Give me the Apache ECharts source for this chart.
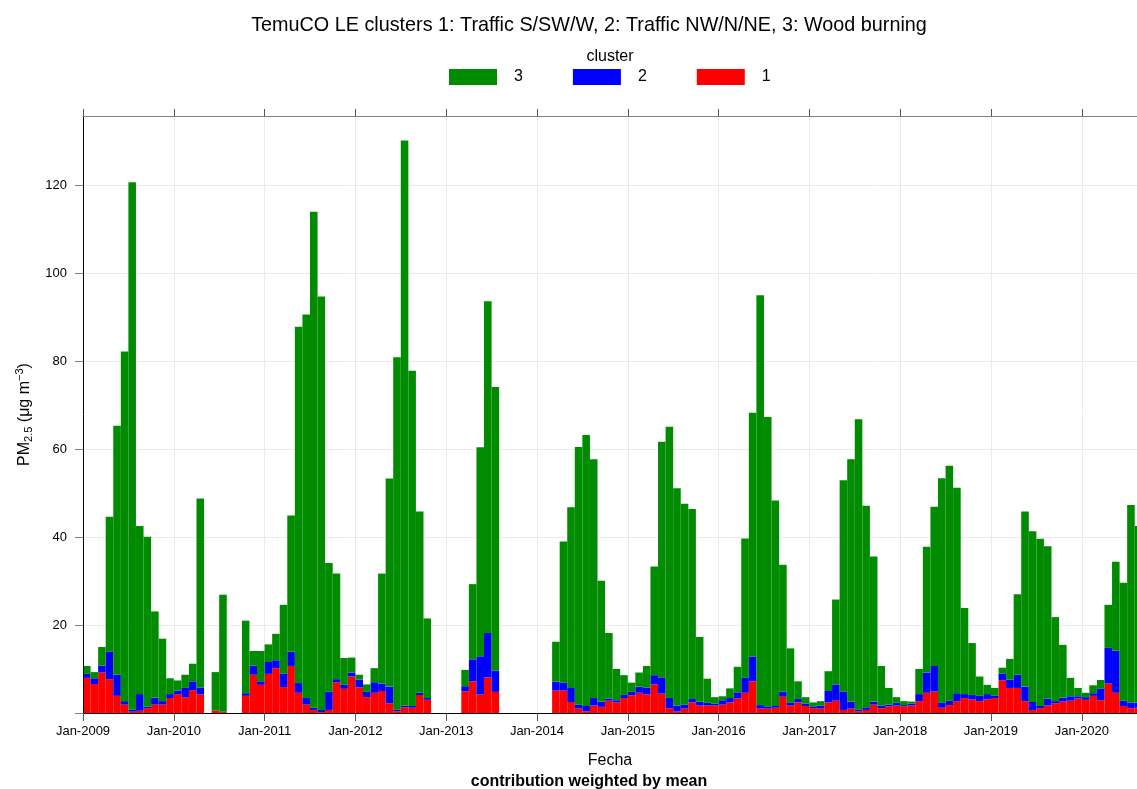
<!DOCTYPE html>
<html>
<head>
<meta charset="utf-8">
<script src="https://cdn.jsdelivr.net/npm/echarts@6/dist/echarts.min.js"></script>
<style>
  html, body { margin: 0; padding: 0; background: #ffffff; }
  #chart { width: 1137px; height: 789px; }
</style>
</head>
<body>
<div id="chart"></div>
<script>
const FONT = "'Liberation Sans', Arial, Helvetica, sans-serif";

// Monthly PM2.5 contribution per cluster (ug m-3), one value per month from Jan-2009; null = no data
const cluster1 = [
  8.0, 6.6, 9.2, 7.7, 3.9, 1.9, 0.3, 0.5, 1.1, 1.9, 1.9, 3.4,
  4.3, 3.6, 5.2, 4.2, null, 0.6, 0.2, null, null, 3.9, 8.7, 6.4,
  8.9, 10.2, 5.9, 10.7, 4.6, 1.9, 0.7, 0.2, 0.7, 7.0, 5.5, 8.3,
  5.8, 3.6, 4.6, 5.0, 2.2, 0.4, 1.3, 1.2, 4.1, 3.0, null, null,
  null, null, 4.9, 7.2, 4.2, 8.1, 4.8, null, null, null, null, null,
  null, null, 5.1, 5.1, 2.5, 1.0, 0.4, 1.7, 1.4, 2.8, 2.4, 3.4,
  4.0, 4.6, 4.2, 6.5, 4.4, 1.1, 0.4, 1.0, 2.4, 1.7, 1.7, 1.7,
  1.9, 2.4, 3.3, 4.6, 7.2, 1.0, 1.0, 1.2, 3.7, 1.7, 2.4, 1.6,
  1.1, 1.0, 2.4, 2.8, 0.7, 1.0, 0.4, 0.7, 1.9, 1.1, 1.5, 1.7,
  1.5, 1.7, 2.7, 4.6, 4.9, 1.2, 1.8, 2.7, 3.4, 3.1, 2.7, 3.1,
  3.4, 7.4, 5.7, 5.7, 2.7, 0.7, 1.1, 1.7, 2.2, 2.6, 2.8, 3.3,
  3.0, 3.9, 2.9, 6.7, 4.6, 1.6, 1.1, 1.2
];
const cluster2 = [
  0.9, 1.3, 1.6, 6.3, 4.8, 0.8, 0.5, 3.8, 0.3, 1.6, 0.8, 0.9,
  0.8, 2.1, 2.0, 1.6, null, 0.0, 0.1, null, null, 0.6, 2.1, 0.8,
  2.7, 1.8, 3.1, 3.2, 2.2, 1.5, 0.5, 0.5, 4.2, 0.7, 0.9, 0.9,
  1.8, 1.2, 2.4, 1.7, 3.8, 0.4, 0.4, 0.4, 0.5, 0.4, null, null,
  null, null, 1.2, 5.0, 8.7, 10.1, 4.8, null, null, null, null, null,
  null, null, 2.0, 1.8, 3.2, 0.9, 1.2, 1.7, 1.2, 0.5, 0.5, 0.7,
  0.8, 1.4, 1.6, 2.1, 3.7, 2.3, 1.3, 0.9, 0.8, 0.9, 0.6, 0.4,
  1.0, 1.0, 1.4, 3.5, 5.6, 0.8, 0.5, 0.4, 1.2, 0.6, 0.8, 0.5,
  0.4, 0.7, 2.6, 3.7, 4.2, 1.6, 0.4, 0.6, 0.7, 0.6, 0.4, 0.6,
  0.3, 0.4, 1.6, 4.6, 5.8, 1.2, 1.0, 1.8, 0.9, 1.0, 1.2, 1.2,
  0.5, 1.6, 1.9, 3.0, 3.3, 1.8, 0.5, 1.6, 0.5, 0.9, 1.0, 0.5,
  0.6, 0.6, 2.7, 8.1, 9.6, 1.2, 1.3, 1.2
];
const cluster3 = [
  1.8, 1.4, 4.2, 30.6, 56.6, 79.5, 119.9, 38.2, 38.7, 19.6, 14.2, 3.6,
  2.3, 3.0, 4.0, 43.0, null, 8.7, 26.6, null, null, 16.5, 3.3, 6.9,
  4.0, 6.0, 15.6, 31.0, 81.0, 87.2, 112.8, 94.0, 29.2, 24.0, 6.1, 3.4,
  1.1, 1.7, 3.2, 25.0, 47.3, 80.1, 128.5, 76.2, 41.2, 18.1, null, null,
  null, null, 3.7, 17.1, 47.5, 75.4, 64.5, null, null, null, null, null,
  null, null, 9.1, 32.1, 41.1, 58.6, 61.6, 54.3, 27.5, 14.9, 7.1, 4.5,
  2.1, 3.2, 4.9, 24.7, 53.6, 61.7, 49.4, 45.7, 43.2, 14.7, 5.5, 1.5,
  0.9, 2.2, 5.8, 31.6, 55.5, 93.2, 65.8, 46.7, 28.8, 12.4, 4.0, 1.5,
  0.9, 1.0, 4.5, 19.3, 48.0, 55.1, 66.0, 45.8, 33.0, 9.0, 3.8, 1.3,
  0.9, 0.5, 5.7, 28.6, 36.2, 51.0, 53.4, 46.7, 19.6, 11.8, 4.4, 2.1,
  1.8, 1.3, 4.7, 18.3, 39.8, 38.8, 38.0, 34.6, 19.1, 12.0, 4.2, 1.9,
  1.0, 1.8, 1.9, 9.8, 20.2, 26.8, 44.9, 40.1
];

// Axis tick labels (one per January) and y tick values
const yearTicks = ['Jan-2009', 'Jan-2010', 'Jan-2011', 'Jan-2012', 'Jan-2013', 'Jan-2014',
                   'Jan-2015', 'Jan-2016', 'Jan-2017', 'Jan-2018', 'Jan-2019', 'Jan-2020'];
const yTickValues = [0, 20, 40, 60, 80, 100, 120];
const yLabelValues = [20, 40, 60, 80, 100, 120];

// Month categories (Jan-2009 onwards) used as the x position index
const months = cluster1.map((_, i) => {
  const y = 2009 + Math.floor(i / 12);
  const m = (i % 12) + 1;
  return y + '-' + String(m).padStart(2, '0');
});
const xTickValues = yearTicks.map((_, k) => k * 12);

const X_MAX = 139.3;
const Y_MAX = 135.75;

const COLORS = { '1': '#FF0000', '2': '#0000FF', '3': '#008B00' };

// One stacked layer: each month is a rectangle spanning [month, month + 1]
function layer(name, values, lower) {
  const color = COLORS[name];
  const data = [];
  values.forEach((v, i) => {
    if (v == null) return;
    let base = 0;
    lower.forEach(arr => { base += arr[i] || 0; });
    data.push({ name: months[i], value: [i, base, base + v] });
  });
  return {
    type: 'custom',
    name: name,
    xAxisIndex: 0,
    yAxisIndex: 0,
    clip: true,
    z: 2,
    itemStyle: { color: color },
    encode: { x: 0, y: [1, 2] },
    renderItem: function (params, api) {
      const i = api.value(0);
      const p0 = api.coord([i, api.value(1)]);
      const p1 = api.coord([i + 1, api.value(2)]);
      return {
        type: 'rect',
        shape: { x: p0[0], y: p1[1], width: p1[0] - p0[0], height: p0[1] - p1[1] },
        style: { fill: color }
      };
    },
    data: data
  };
}

const chart = echarts.init(document.getElementById('chart'), null, { renderer: 'canvas' });

const option = {
  animation: false,
  backgroundColor: '#ffffff',
  textStyle: { fontFamily: FONT },
  grid: { left: 83, right: 0, top: 116, bottom: 76, containLabel: false },
  legend: {
    data: ['3', '2', '1'],
    left: 444,
    top: 64,
    orient: 'horizontal',
    icon: 'rect',
    itemWidth: 48,
    itemHeight: 16,
    itemGap: 50,
    selectedMode: false,
    textStyle: { fontSize: 16, color: '#000', fontFamily: FONT, padding: [0, 0, 0, 12] }
  },
  xAxis: [
    {
      type: 'value', min: 0, max: X_MAX, interval: 12, position: 'bottom', z: 0,
      axisLine: { show: false }, axisTick: { show: false }, axisLabel: { show: false },
      splitLine: { show: true, lineStyle: { color: '#EBEBEB', width: 1 } }
    },
    {
      type: 'value', min: 0, max: X_MAX, interval: 12, position: 'bottom', z: 5,
      axisLine: { show: true, onZero: false, lineStyle: { color: '#000', width: 1 } },
      axisTick: { show: true, customValues: xTickValues, length: 8, lineStyle: { color: '#555' } },
      axisLabel: {
        show: true, customValues: xTickValues, margin: 12, fontSize: 13, color: '#000', fontFamily: FONT,
        formatter: v => yearTicks[Math.round(v / 12)] || ''
      },
      splitLine: { show: false }
    },
    {
      type: 'value', min: 0, max: X_MAX, interval: 12, position: 'top', z: 5,
      axisLine: { show: true, onZero: false, lineStyle: { color: '#808080', width: 1 } },
      axisTick: { show: true, customValues: xTickValues, length: 7, lineStyle: { color: '#555' } },
      axisLabel: { show: false },
      splitLine: { show: false }
    }
  ],
  yAxis: [
    {
      type: 'value', min: 0, max: Y_MAX, interval: 20, position: 'left', z: 0,
      axisLine: { show: false }, axisTick: { show: false }, axisLabel: { show: false },
      splitLine: { show: true, lineStyle: { color: '#EBEBEB', width: 1 } }
    },
    {
      type: 'value', min: 0, max: Y_MAX, interval: 20, position: 'left', z: 5,
      axisLine: { show: true, onZero: false, lineStyle: { color: '#000', width: 1 } },
      axisTick: { show: true, customValues: yTickValues, length: 8, lineStyle: { color: '#808080' } },
      axisLabel: { show: true, customValues: yLabelValues, margin: 16, fontSize: 13, color: '#000', fontFamily: FONT },
      splitLine: { show: false },
      name: '{n|PM}{s|2.5}{n| (\u03bcg m}{p|\u22123}{n|)}',
      nameLocation: 'middle',
      nameGap: 46,
      nameTextStyle: {
        fontFamily: FONT,
        rich: {
          n: { fontSize: 16, color: '#000', fontFamily: FONT, lineHeight: 20 },
          s: { fontSize: 11, color: '#000', fontFamily: FONT, lineHeight: 12, verticalAlign: 'bottom' },
          p: { fontSize: 11, color: '#000', fontFamily: FONT, lineHeight: 10, verticalAlign: 'top' }
        }
      }
    }
  ],
  graphic: [
    {
      type: 'text', x: 589, y: 26, silent: true,
      style: {
        text: 'TemuCO LE clusters 1: Traffic S/SW/W, 2: Traffic NW/N/NE, 3: Wood burning',
        fontSize: 19.8, fontFamily: FONT, fill: '#000', align: 'center', verticalAlign: 'middle'
      }
    },
    {
      type: 'text', x: 610, y: 57, silent: true,
      style: { text: 'cluster', fontSize: 16, fontFamily: FONT, fill: '#000', align: 'center', verticalAlign: 'middle' }
    },
    {
      type: 'text', x: 610, y: 761, silent: true,
      style: { text: 'Fecha', fontSize: 16, fontFamily: FONT, fill: '#000', align: 'center', verticalAlign: 'middle' }
    },
    {
      type: 'text', x: 589, y: 782, silent: true,
      style: {
        text: 'contribution weighted by mean', fontSize: 16, fontWeight: 'bold',
        fontFamily: FONT, fill: '#000', align: 'center', verticalAlign: 'middle'
      }
    }
  ],
  series: [
    layer('1', cluster1, []),
    layer('2', cluster2, [cluster1]),
    layer('3', cluster3, [cluster1, cluster2])
  ]
};

chart.setOption(option);
</script>
</body>
</html>
